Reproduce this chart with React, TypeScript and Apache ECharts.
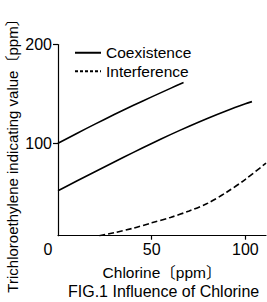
import React, { useEffect, useRef } from 'react';
import * as echarts from 'echarts';

const FONT = '"Liberation Sans", Arial, Helvetica, "Noto Sans CJK JP", sans-serif';

// Coexistence (upper curve)
const upperX = [0, 10, 20, 30, 40, 50, 60, 67];
const upperY = [100, 110, 119.7, 129.1, 138.2, 147, 155.6, 161.5];
// Coexistence (lower curve)
const lowerX = [0, 10, 20, 30, 40, 50, 60, 70, 80, 90, 100, 103.5];
const lowerY = [52, 61.8, 71.5, 81.1, 90.6, 99.9, 108.8, 117.3, 125.4, 133, 140, 142.2];
// Interference
const interX = [22, 30, 40, 50, 60, 70, 80, 90, 100, 111];
const interY = [6.5, 9.5, 14, 19.5, 25, 31.5, 39.5, 50.5, 63.5, 80];

const xTicks = [50, 100];
const xLabels = [0, 50, 100];
const yTicks = [100, 200];

const legendNames = ['Coexistence', 'Interference'];
const xName = 'Chlorine〔ppm〕';
const yName = 'Trichloroethylene indicating value〔ppm〕';
const caption = 'FIG.1 Influence of Chlorine';

const pairs = (xs: number[], ys: number[]) => xs.map((x, i) => [x, ys[i]]);

export default function App() {
  const ref = useRef<HTMLDivElement>(null);
  useEffect(() => {
    const chart = echarts.init(ref.current!, null, { renderer: 'svg', width: 267, height: 302 });
    const lineBase = { color: '#000', width: 1.6 };
    chart.setOption({
      animation: false,
      backgroundColor: '#fff',
      textStyle: { fontFamily: FONT, color: '#000', fontWeight: 'normal' },
      title: {
        text: caption,
        left: 68,
        top: 283,
        padding: 0,
        textStyle: { fontSize: 16, fontWeight: 'normal', color: '#000', fontFamily: FONT },
      },
      legend: {
        orient: 'vertical',
        left: 74,
        top: 45,
        padding: 0,
        itemWidth: 26,
        itemHeight: 10,
        itemGap: 3,
        itemTextGap: 7,
        itemStyle: { opacity: 0 },
        textStyle: { fontSize: 15.5, color: '#000', fontFamily: FONT },
        data: [
          { name: legendNames[0] },
          { name: legendNames[1], lineStyle: { type: [3, 2] } },
        ],
      },
      grid: { left: 58, right: 1, top: 44.5, bottom: 66.3 },
      xAxis: {
        type: 'value',
        min: 0,
        max: 111,
        name: xName,
        nameLocation: 'middle',
        nameGap: 29,
        nameTextStyle: { fontSize: 15.5, color: '#000', fontFamily: FONT, fontWeight: 'normal' },
        axisLine: { show: true, onZero: false, lineStyle: { color: '#000', width: 1.2 } },
        axisTick: { show: true, customValues: xTicks, length: 4, lineStyle: { color: '#000', width: 1.2 } },
        axisLabel: {
          customValues: xLabels,
          margin: 6,
          fontSize: 16,
          color: '#000',
          fontFamily: FONT,
          formatter: (v: number) => (v === 0 ? '{o|0}' : String(v)),
          rich: { o: { padding: [0, 20, 0, 0], fontSize: 16, color: '#000', fontFamily: FONT } },
        },
        splitLine: { show: false },
      },
      yAxis: {
        type: 'value',
        min: 6.5,
        max: 200,
        axisLine: { show: true, onZero: false, lineStyle: { color: '#000', width: 1.2 } },
        axisTick: { show: true, customValues: yTicks, length: 5, lineStyle: { color: '#000', width: 1.2 } },
        axisLabel: { customValues: yTicks, margin: 6, fontSize: 16, color: '#000', fontFamily: FONT },
        splitLine: { show: false },
      },
      graphic: [
        {
          type: 'text',
          x: 12.5,
          y: 152,
          rotation: Math.PI / 2,
          style: {
            text: yName,
            fontSize: 15,
            fontFamily: FONT,
            fill: '#000',
            align: 'center',
            verticalAlign: 'middle',
          },
        },
      ],
      series: [
        {
          name: legendNames[0],
          type: 'line',
          data: pairs(upperX, upperY),
          symbol: 'none',
          smooth: 0.3,
          itemStyle: { color: '#000' },
          lineStyle: { ...lineBase, type: 'solid' },
        },
        {
          name: legendNames[0],
          type: 'line',
          data: pairs(lowerX, lowerY),
          symbol: 'none',
          smooth: 0.3,
          itemStyle: { color: '#000' },
          lineStyle: { ...lineBase, type: 'solid' },
        },
        {
          name: legendNames[1],
          type: 'line',
          data: pairs(interX, interY),
          symbol: 'none',
          smooth: 0.3,
          itemStyle: { color: '#000' },
          lineStyle: { ...lineBase, type: [6, 3] },
        },
      ],
    });
    return () => chart.dispose();
  }, []);
  return (
    <div
      ref={ref}
      style={{ position: 'fixed', left: 0, top: 0, width: 267, height: 302, background: '#fff' }}
    />
  );
}
